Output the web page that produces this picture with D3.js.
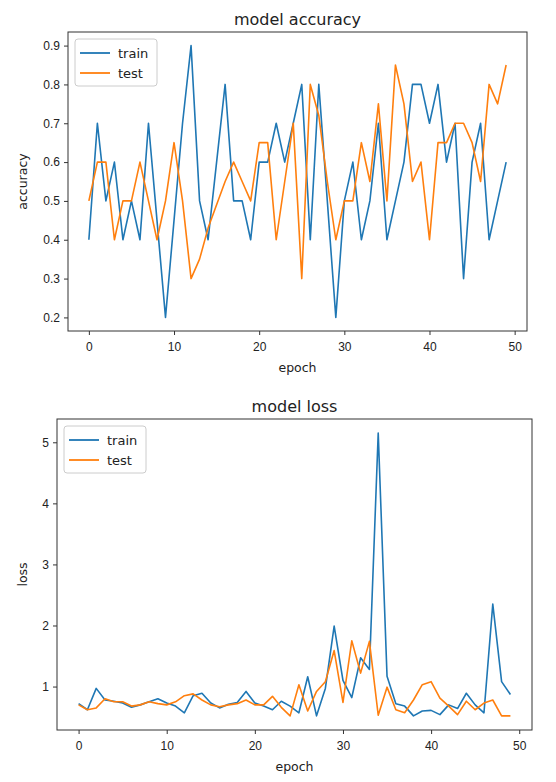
<!DOCTYPE html>
<html>
<head>
<meta charset="utf-8">
<script src="https://cdn.jsdelivr.net/npm/d3@7"></script>
<style>
  body { margin: 0; background: #fff; }
  svg { display: block; font-family: "DejaVu Sans", sans-serif; }
  .tick text { font-size: 12px; fill: #222; }
  .tick line, .domain { stroke: #333; }
</style>
</head>
<body>
<svg id="chart" width="556" height="782"></svg>
<script>
// epochs 0..49
var epochs = d3.range(0, 50);

var accTrain = [0.4, 0.7, 0.5, 0.6, 0.4, 0.5, 0.4, 0.7, 0.45, 0.2,
                0.45, 0.7, 0.9, 0.5, 0.4, 0.6, 0.8, 0.5, 0.5, 0.4,
                0.6, 0.6, 0.7, 0.6, 0.7, 0.8, 0.4, 0.8, 0.5, 0.2,
                0.5, 0.6, 0.4, 0.5, 0.7, 0.4, 0.5, 0.6, 0.8, 0.8,
                0.7, 0.8, 0.6, 0.7, 0.3, 0.6, 0.7, 0.4, 0.5, 0.6];
var accTest = [0.5, 0.6, 0.6, 0.4, 0.5, 0.5, 0.6, 0.5, 0.4, 0.5,
               0.65, 0.5, 0.3, 0.35, 0.43, 0.49, 0.55, 0.6, 0.55, 0.5,
               0.65, 0.65, 0.4, 0.55, 0.7, 0.3, 0.8, 0.72, 0.55, 0.4,
               0.5, 0.5, 0.65, 0.55, 0.75, 0.5, 0.85, 0.75, 0.55, 0.6,
               0.4, 0.65, 0.65, 0.7, 0.7, 0.65, 0.55, 0.8, 0.75, 0.85];

var lossTrain = [0.72, 0.62, 0.97, 0.78, 0.76, 0.73, 0.66, 0.7, 0.75, 0.8,
                 0.73, 0.68, 0.57, 0.85, 0.89, 0.73, 0.65, 0.71, 0.74, 0.92,
                 0.73, 0.68, 0.62, 0.76, 0.68, 0.57, 1.16, 0.52, 0.97, 1.99,
                 1.1, 0.82, 1.47, 1.28, 5.15, 1.17, 0.72, 0.68, 0.52, 0.6,
                 0.61, 0.54, 0.7, 0.64, 0.89, 0.7, 0.57, 2.35, 1.08, 0.87];
var lossTest = [0.7, 0.62, 0.65, 0.8, 0.75, 0.75, 0.68, 0.7, 0.75, 0.72,
                0.7, 0.75, 0.85, 0.88, 0.78, 0.7, 0.67, 0.7, 0.72, 0.78,
                0.7, 0.7, 0.84, 0.66, 0.52, 1.03, 0.6, 0.92, 1.08, 1.59,
                0.74, 1.75, 1.22, 1.74, 0.53, 0.99, 0.62, 0.57, 0.78, 1.03,
                1.08, 0.81, 0.68, 0.54, 0.76, 0.62, 0.73, 0.78, 0.52, 0.52];

var accTicks = [0.2, 0.3, 0.4, 0.5, 0.6, 0.7, 0.8, 0.9];
var lossTicks = [1, 2, 3, 4, 5];
var epochTicks = [0, 10, 20, 30, 40, 50];
var seriesNames = ["train", "test"];
var colors = ["#1f77b4", "#ff7f0e"];

var svg = d3.select("#chart");

function drawPanel(p) {
  var x = d3.scaleLinear()
      .domain([-2.45, 51.45])
      .range([p.left, p.right]);
  var all = p.series[0].concat(p.series[1]);
  var lo = d3.min(all), hi = d3.max(all), pad = (hi - lo) * 0.05;
  var y = d3.scaleLinear()
      .domain([lo - pad, hi + pad])
      .range([p.bottom, p.top]);

  var g = svg.append("g");

  // frame
  g.append("rect")
      .attr("x", p.left).attr("y", p.top)
      .attr("width", p.right - p.left).attr("height", p.bottom - p.top)
      .attr("fill", "#fff").attr("stroke", "#333").attr("stroke-width", 1);

  g.append("g")
      .attr("transform", "translate(0," + p.bottom + ")")
      .call(d3.axisBottom(x).tickValues(epochTicks).tickSize(4).tickPadding(7))
      .call(a => a.select(".domain").remove());

  g.append("g")
      .attr("transform", "translate(" + p.left + ",0)")
      .call(d3.axisLeft(y).tickValues(p.ticks).tickSize(4).tickPadding(4)
              .tickFormat(p.fmt))
      .call(a => a.select(".domain").remove());

  var line = d3.line()
      .x((d, i) => x(epochs[i]))
      .y(d => y(d));

  p.series.forEach(function (s, i) {
    g.append("path")
        .datum(s)
        .attr("fill", "none")
        .attr("stroke", colors[i])
        .attr("stroke-width", 1.6)
        .attr("stroke-linejoin", "round")
        .attr("d", line);
  });

  // title + labels
  g.append("text")
      .attr("x", (p.left + p.right) / 2).attr("y", p.top - 7)
      .attr("text-anchor", "middle").style("font-size", "16px").attr("fill", "#222")
      .text(p.title);
  g.append("text")
      .attr("x", (p.left + p.right) / 2).attr("y", p.bottom + 41)
      .attr("text-anchor", "middle").style("font-size", "12.5px").attr("fill", "#222")
      .text("epoch");
  g.append("text")
      .attr("transform", "translate(" + p.ylabX + "," + ((p.top + p.bottom) / 2) + ") rotate(-90)")
      .attr("text-anchor", "middle").style("font-size", "12.5px").attr("fill", "#222")
      .text(p.ylabel);

  // legend
  var lg = g.append("g").attr("transform", "translate(" + (p.left + 7) + "," + (p.top + 7) + ")");
  lg.append("rect")
      .attr("width", 82).attr("height", 47).attr("rx", 3)
      .attr("fill", "#fff").attr("stroke", "#ccc");
  seriesNames.forEach(function (n, i) {
    var yy = 14 + i * 20;
    lg.append("line")
        .attr("x1", 5).attr("x2", 35).attr("y1", yy).attr("y2", yy)
        .attr("stroke", colors[i]).attr("stroke-width", 1.8);
    lg.append("text")
        .attr("x", 43).attr("y", yy + 4.5)
        .style("font-size", "13px").attr("fill", "#222")
        .text(n);
  });
}

drawPanel({
  left: 68, right: 527, top: 32, bottom: 331,
  series: [accTrain, accTest], ticks: accTicks, fmt: d3.format(".1f"),
  title: "model accuracy", ylabel: "accuracy", ylabX: 27
});

drawPanel({
  left: 57, right: 532, top: 419, bottom: 730,
  series: [lossTrain, lossTest], ticks: lossTicks, fmt: d3.format("d"),
  title: "model loss", ylabel: "loss", ylabX: 27
});
</script>
</body>
</html>
